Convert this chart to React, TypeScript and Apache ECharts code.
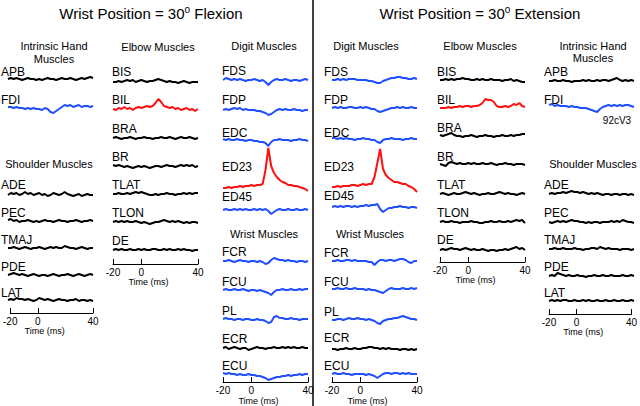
import React, { useEffect, useRef } from 'react';
import * as echarts from 'echarts';

// ---------- data ----------
const TIME = [-20, -18, -16, -14, -12, -10, -8, -6, -4, -2, 0, 2, 4, 6, 8, 10, 12, 14, 16, 18, 20, 22, 24, 26, 28, 30, 32, 34, 36, 38, 40];
const TIME_TICKS = [-20, 0, 40];

const HAND_MUSCLES = ['APB', 'FDI'];
const SHOULDER_MUSCLES = ['ADE', 'PEC', 'TMAJ', 'PDE', 'LAT'];
const ELBOW_MUSCLES = ['BIS', 'BIL', 'BRA', 'BR', 'TLAT', 'TLON', 'DE'];
const DIGIT_MUSCLES = ['FDS', 'FDP', 'EDC', 'ED23', 'ED45'];
const WRIST_MUSCLES = ['FCR', 'FCU', 'PL', 'ECR', 'ECU'];

const TITLES = ['Flexion', 'Extension'];
const MONKEY_ID = '92cV3';

// Flexion
const F_APB = [0, 1, 0, 1, 0, -1, 0, 1, 0, 0, -1, 0, -1, 0, 1, 0, 0, -1, 0, 1, 0, 0, 1, 0, -1, 0, 1, 0, 1, 2, 1];
const F_FDI = [1, 1, 0, 1, 0, 0, -1, 0, -1, 0, -1, -1, -2, 0, -1, -4, -5, -3, -1, 1, 3, 2, 3, 1, 2, 3, 1, 2, 2, 1, 2];
const F_ADE = [0, 2, 1, 2, 0, 1, 3, 1, 2, 0, 1, 2, 0, 1, -1, 0, 2, 1, 0, 1, 3, 1, 0, -1, 0, 1, -1, 0, 1, 0, 0];
const F_PEC = [1, 2, 0, 1, -1, 0, 0, 1, 0, -1, 0, -1, 0, 1, 0, 0, -1, 0, 1, 0, 0, -1, 0, 0, 1, 0, -1, 0, 0, 1, 0];
const F_TMAJ = [0, 0, 1, 0, -1, 0, 1, 0, -1, 0, 0, 1, 0, -1, 0, 1, 0, 1, 0, 0, 2, 1, 0, 0, -1, 0, 1, 0, -1, 0, 0];
const F_PDE = [0, 1, 2, 1, 0, 1, 0, -1, 0, 1, 0, -1, 0, 0, -1, 0, 1, 0, -1, 0, 0, 1, 0, -1, 0, 1, 0, -1, 0, 1, 0];
const F_LAT = [0, 1, 0, 2, 1, 1, 0, 1, 0, -1, 0, 2, 1, 0, 1, 0, -1, 0, 1, 0, 0, -1, 0, 0, 1, -1, 0, 0, -1, 0, -1];

const F_BIS = [0, 0, 1, 0, 1, 2, 1, 2, 0, 1, 2, 1, 0, 1, 1, 2, 3, 2, 1, 0, 1, 0, 0, -1, 0, 1, 0, -1, 0, 0, 0];
const F_BIL = [0, -1, 1, 0, 2, 0, 1, -1, 1, 2, 1, 2, 3, 2, 3, 6, 10, 7, 3, 2, 1, 2, 0, 1, -1, 0, 1, -1, 0, -2, 0];
const F_BRA = [0, 1, 0, -1, 0, 0, 1, 0, -1, 0, 0, 1, 0, 0, -1, 0, 0, 1, 0, 0, 1, 0, -1, 0, 1, 0, 0, 1, 0, -1, 0];
const F_BR = [1, 0, 1, 0, -1, 0, -1, -2, -1, 0, -1, 0, -1, -2, -1, 0, 0, -1, 0, 1, 0, 0, -1, 0, 1, 0, 1, 0, 1, -1, 0];
const F_TLAT = [0, 0, 1, 0, 0, 1, 0, 1, 2, 1, 2, 1, 0, -1, -1, 0, -1, 0, 0, 1, 0, 0, -1, 0, 0, 1, 0, 1, 0, 1, 1];
const F_TLON = [0, 1, 0, 1, 0, 1, 0, 0, 1, 0, -1, 0, -1, -2, -1, 0, 0, 1, 2, 1, 0, 1, 0, 1, 0, -1, 0, -1, 0, 0, -1];
const F_DE = [0, 1, 0, 1, 0, 0, 1, 0, 0, 1, 0, 1, 0, 0, 1, 1, 0, 0, 1, 0, 1, 0, 0, 1, 0, 1, 0, 0, -1, 0, 0];

const F_FDS = [0, 2, 1, 0, 1, 0, 1, 0, -1, 0, 0, 1, 0, -1, 0, -2, -5, -2, 0, 1, 0, 0, 1, 0, -1, 0, 0, -1, 0, 1, 0];
const F_FDP = [0, 1, 0, 1, 2, 1, 2, 0, 1, 0, 0, 0, -1, -1, -2, -3, -5, -4, -2, 0, 1, 0, 1, 0, 0, 1, 0, 0, -1, 0, 0];
const F_EDC = [1, 0, 1, 0, 0, 1, 0, 0, -1, 0, 0, -1, -1, -2, -2, -3, -6, -2, 0, 0, 1, 0, 0, 0, -1, 0, 0, 1, 0, 0, -1];
const F_ED23 = [0, 0, 1, 0, 1, 1, 2, 1, 2, 2, 3, 2, 3, 3, 4, 18, 40, 22, 15, 11, 8, 6, 5, 3, 3, 2, 2, 1, 0, -1, -3];
const F_ED45 = [0, 1, 0, 0, 1, 0, 1, 0, 1, 0, 0, 1, 0, 1, 0, 1, -1, -4, -2, 0, 1, 0, 0, 1, 0, 0, 1, 0, 0, 1, 0];
const F_FCR = [0, 0, 1, 0, -1, 0, 1, 0, 0, -1, 0, 0, -1, 0, -1, -3, -2, 1, 3, 2, 1, 1, 0, 1, 0, 0, -1, 0, 0, -1, 0];
const F_FCU = [0, 1, 0, 0, 1, 0, 0, 1, 0, -1, 0, 0, -1, 0, -1, -2, -3, -5, -2, 0, 0, 1, 0, 0, 1, 0, 0, 1, 0, 1, 1];
const F_PL = [0, 1, 0, 0, -1, 0, 0, -1, 0, 0, -1, -1, 0, -1, -1, -2, -4, -3, 2, 3, 1, 1, 0, 0, 1, 0, 0, -1, 0, 0, 0];
const F_ECR = [0, 1, -1, 0, 1, 0, -1, 0, 0, -2, -1, 0, 1, 0, 0, -1, 0, 0, 1, 0, 0, 1, 0, 1, 0, 1, 0, 0, 1, 0, 0];
const F_ECU = [2, 1, 2, 1, 1, 0, 1, 0, 0, 1, 0, 0, -1, -1, -2, -3, -5, -4, -3, -2, -2, -1, -1, 0, -1, 0, 0, 1, 0, 1, 1];

// Extension
const E_FDS = [0, 0, 1, 0, 1, 0, 1, 1, 1, 0, 0, 0, 0, -1, -1, -2, -3, -3, -1, 0, 1, 2, 2, 3, 3, 2, 2, 1, 1, 2, 1];
const E_FDP = [0, 1, 0, 1, 0, 0, 1, 1, 0, 0, 1, 0, 1, 0, -1, -1, -3, -4, -3, -2, -1, 0, 0, 1, 0, 1, 0, 0, 1, 0, 0];
const E_EDC = [1, 1, 0, 1, 0, 1, 0, 0, -1, 0, 0, 1, 0, 0, -1, -1, -3, -4, -1, 0, 0, 1, 0, 0, 0, -1, 0, 0, 1, 0, 0];
const E_ED23 = [0, 0, 1, 0, 1, 1, 1, 2, 2, 1, 2, 3, 2, 3, 3, 10, 24, 38, 18, 12, 9, 7, 5, 5, 4, 3, 3, 1, 0, -2, -5];
const E_ED45 = [0, 1, 0, 1, 0, 1, 1, 0, 1, 0, 1, 1, 2, 1, 2, 2, 3, -2, -5, -3, -1, -1, 0, 0, 1, 0, 0, -1, 0, 0, -1];
const E_FCR = [0, 0, 1, 0, 0, 1, 1, 0, 1, 0, 0, 0, 0, -1, -1, -4, -1, 1, 1, 0, 1, 1, 0, 1, 2, 2, 1, -1, -2, 0, 0];
const E_FCU = [0, 0, 1, 0, 0, 1, 0, 0, 1, 0, 0, 0, -1, 0, -1, -1, -2, -3, -4, -2, 0, 1, 0, 0, 0, 1, 0, 0, 1, 0, 1];
const E_PL = [0, 0, 1, 1, 0, 1, 2, 1, 1, 2, 1, 1, 0, 1, 0, -1, -3, -4, -1, 0, 1, 1, 2, 2, 3, 4, 3, 2, 1, 1, 0];
const E_ECR = [0, 0, -1, 0, 0, 1, 0, 0, 1, 0, 0, 1, 1, 2, 2, 1, 1, 0, 1, 0, 1, 0, 0, 0, -1, 0, 0, -1, 0, -1, 0];
const E_ECU = [0, 1, 0, 0, 1, 0, 0, -1, 0, 0, 0, 0, -1, 0, -1, -2, -4, -2, 0, 1, 1, 0, 1, 1, 0, 1, 0, 1, 0, 0, 0];

const E_BIS = [0, 0, 1, 0, 1, 0, 1, 1, 2, 1, 1, 0, 0, 1, 0, 1, 0, 0, 1, 0, 0, 0, -1, 0, 0, 1, -1, 0, -1, -2, -2];
const E_BIL = [0, 0, 0, 1, 0, 1, 1, 2, 1, 2, 2, 1, 2, 2, 3, 5, 9, 8, 8, 6, 2, 1, 1, 2, 1, 2, 4, 3, 5, 2, 1];
const E_BRA = [1, 0, 1, 2, 3, 1, 0, 0, -1, 0, 0, 1, 0, -1, 0, 0, 1, 0, 0, -1, 0, 0, 1, 0, 0, 1, 0, 1, 1, 2, 2];
const E_BR = [0, -1, -2, 1, 2, 1, 0, 1, 0, 0, 1, 0, 1, 0, 0, 1, 0, 0, 1, 0, -1, 0, 0, 1, 0, 0, -1, 0, 0, 0, -1];
const E_TLAT = [0, 1, 0, -1, 0, 1, 0, 0, 1, 2, 1, 0, 1, 0, -1, 0, 0, 1, 0, 0, 1, 2, 1, 0, 1, 0, 0, -1, 0, 1, 0];
const E_TLON = [0, 1, 0, 0, 1, 0, 0, -1, 0, 0, 0, 1, 0, 0, -1, -1, 0, 0, 1, 0, 0, 1, 0, 0, 1, 0, 1, 2, 1, 2, -1];
const E_DE = [0, 1, 0, 1, 2, 1, 1, 0, 1, 2, 1, 0, 1, 0, 0, 1, 0, -1, 0, 0, -1, 0, 0, 1, 0, 1, 2, 3, 1, 2, 0];

const E_APB = [0, 0, 1, 0, 0, 1, 0, 0, -1, 0, 0, 0, 1, 0, 1, 0, 0, 1, 0, 1, 1, 0, 1, 2, 3, 1, 0, 1, 0, 1, 0];
const E_FDI = [2, 3, 1, 2, 1, 1, 1, 0, 1, 0, 0, -1, -1, -1, -2, -3, -4, -5, -2, 0, 1, 2, 1, 2, 1, 2, 1, 2, 2, 1, 0];
const E_ADE = [0, 1, 0, 1, 1, 2, 1, 2, 3, 2, 2, 1, 2, 1, 0, 1, 0, 1, 0, -1, 0, 0, -1, 0, 0, -1, 0, 0, -1, 0, -1];
const E_PEC = [0, -1, 0, 1, 0, 1, 0, 1, 2, 1, 1, 0, 0, -1, 0, -1, 0, 0, -1, 0, 0, 0, 1, 0, 1, 0, 2, 1, 0, 0, -1];
const E_TMAJ = [0, 0, 1, 0, 0, 1, 0, 0, 0, 1, 0, 0, -1, 0, 0, 1, 1, 0, 2, 1, 0, 1, 0, 0, 0, -1, 0, 0, 0, -1, 0];
const E_PDE = [0, 1, 0, 3, 2, 1, 0, 1, 0, 0, 1, 0, 0, -1, 0, 0, 1, 0, 0, 1, 0, 0, 1, 0, 0, 0, 1, 0, 0, 1, 0];
const E_LAT = [0, 1, 0, 1, 0, 1, 1, 0, 0, 1, 0, 0, 1, 0, 1, 0, 0, 1, 0, 0, 1, 0, 0, 1, 0, 0, 1, 0, 0, 1, 0];

// ---------- styles & layout ----------
const FONT = '"Liberation Sans", Arial, Helvetica, sans-serif';
const BLACK = '#000000';
const BLUE = '#1f4fff';
const RED = '#ff1010';
const TRACE_W = 85;
const LABEL_SIZE = 12;
const HEADER_SIZE = 11;

type Tr = [string, number[], string, number, number]; // name, values, color, traceY, labelY
type Col = { x: number; lx: number; axisY: number; headers: [string, number, number][]; traces: Tr[] };

const COLS: Col[] = [
  {
    x: 8, lx: 1, axisY: 313,
    headers: [['Intrinsic Hand', 54, 46], ['Muscles', 54, 59], ['Shoulder Muscles', 49, 164]],
    traces: [
      [HAND_MUSCLES[0], F_APB, BLACK, 79, 72],
      [HAND_MUSCLES[1], F_FDI, BLUE, 108, 100],
      [SHOULDER_MUSCLES[0], F_ADE, BLACK, 195, 185],
      [SHOULDER_MUSCLES[1], F_PEC, BLACK, 221, 213],
      [SHOULDER_MUSCLES[2], F_TMAJ, BLACK, 248, 240],
      [SHOULDER_MUSCLES[3], F_PDE, BLACK, 275, 267],
      [SHOULDER_MUSCLES[4], F_LAT, BLACK, 300, 293],
    ],
  },
  {
    x: 113, lx: 112, axisY: 264,
    headers: [['Elbow Muscles', 158, 47]],
    traces: [
      [ELBOW_MUSCLES[0], F_BIS, BLACK, 82, 72],
      [ELBOW_MUSCLES[1], F_BIL, RED, 109, 100],
      [ELBOW_MUSCLES[2], F_BRA, BLACK, 138, 129],
      [ELBOW_MUSCLES[3], F_BR, BLACK, 166, 157],
      [ELBOW_MUSCLES[4], F_TLAT, BLACK, 194, 185],
      [ELBOW_MUSCLES[5], F_TLON, BLACK, 222, 213],
      [ELBOW_MUSCLES[6], F_DE, BLACK, 250, 241],
    ],
  },
  {
    x: 223, lx: 222, axisY: 385,
    headers: [['Digit Muscles', 264, 46], ['Wrist Muscles', 264, 234]],
    traces: [
      [DIGIT_MUSCLES[0], F_FDS, BLUE, 80, 71],
      [DIGIT_MUSCLES[1], F_FDP, BLUE, 110, 100],
      [DIGIT_MUSCLES[2], F_EDC, BLUE, 140, 133],
      [DIGIT_MUSCLES[3], F_ED23, RED, 188, 167],
      [DIGIT_MUSCLES[4], F_ED45, BLUE, 210, 197],
      [WRIST_MUSCLES[0], F_FCR, BLUE, 261, 252],
      [WRIST_MUSCLES[1], F_FCU, BLUE, 290, 282],
      [WRIST_MUSCLES[2], F_PL, BLUE, 319, 311],
      [WRIST_MUSCLES[3], F_ECR, BLACK, 348, 339],
      [WRIST_MUSCLES[4], F_ECU, BLUE, 375, 366],
    ],
  },
  {
    x: 332, lx: 324, axisY: 385,
    headers: [['Digit Muscles', 366, 46], ['Wrist Muscles', 370, 234]],
    traces: [
      [DIGIT_MUSCLES[0], E_FDS, BLUE, 80, 72],
      [DIGIT_MUSCLES[1], E_FDP, BLUE, 108, 100],
      [DIGIT_MUSCLES[2], E_EDC, BLUE, 139, 133],
      [DIGIT_MUSCLES[3], E_ED23, RED, 187, 167],
      [DIGIT_MUSCLES[4], E_ED45, BLUE, 207, 196],
      [WRIST_MUSCLES[0], E_FCR, BLUE, 261, 253],
      [WRIST_MUSCLES[1], E_FCU, BLUE, 289, 282],
      [WRIST_MUSCLES[2], E_PL, BLUE, 320, 312],
      [WRIST_MUSCLES[3], E_ECR, BLACK, 349, 338],
      [WRIST_MUSCLES[4], E_ECU, BLUE, 374, 366],
    ],
  },
  {
    x: 440, lx: 437, axisY: 262,
    headers: [['Elbow Muscles', 480, 46]],
    traces: [
      [ELBOW_MUSCLES[0], E_BIS, BLACK, 80, 72],
      [ELBOW_MUSCLES[1], E_BIL, RED, 108, 100],
      [ELBOW_MUSCLES[2], E_BRA, BLACK, 136, 128],
      [ELBOW_MUSCLES[3], E_BR, BLACK, 164, 157],
      [ELBOW_MUSCLES[4], E_TLAT, BLACK, 194, 185],
      [ELBOW_MUSCLES[5], E_TLON, BLACK, 222, 213],
      [ELBOW_MUSCLES[6], E_DE, BLACK, 250, 240],
    ],
  },
  {
    x: 549, lx: 544, axisY: 314,
    headers: [['Intrinsic Hand', 593, 46], ['Muscles', 593, 58], ['Shoulder Muscles', 593, 164]],
    traces: [
      [HAND_MUSCLES[0], E_APB, BLACK, 81, 72],
      [HAND_MUSCLES[1], E_FDI, BLUE, 107, 100],
      [SHOULDER_MUSCLES[0], E_ADE, BLACK, 194, 185],
      [SHOULDER_MUSCLES[1], E_PEC, BLACK, 222, 213],
      [SHOULDER_MUSCLES[2], E_TMAJ, BLACK, 249, 240],
      [SHOULDER_MUSCLES[3], E_PDE, BLACK, 276, 267],
      [SHOULDER_MUSCLES[4], E_LAT, BLACK, 301, 293],
    ],
  },
];

function textEl(text: string, x: number, y: number, size: number, align: string) {
  return {
    type: 'text',
    x, y,
    silent: true,
    style: {
      text,
      fill: '#000',
      fontSize: size,
      fontFamily: FONT,
      align, textAlign: align,
      verticalAlign: 'middle', textVerticalAlign: 'middle',
    },
  };
}

function titleEl(word: string, cx: number) {
  return {
    type: 'text',
    x: cx, y: 13,
    silent: true,
    style: {
      text: `{a|Wrist Position = 30}{b|o}{a| ${word}}`,
      fill: '#000',
      align: 'center', textAlign: 'center',
      verticalAlign: 'middle', textVerticalAlign: 'middle',
      rich: {
        a: { fontSize: 15, fontFamily: FONT, fill: '#000', lineHeight: 18 },
        b: { fontSize: 10, fontFamily: FONT, fill: '#000', lineHeight: 11, verticalAlign: 'top' },
      },
    },
  };
}

function buildOption() {
  const grid: any[] = [];
  const xAxis: any[] = [];
  const yAxis: any[] = [];
  const series: any[] = [];
  const graphic: any[] = [];

  COLS.forEach((col) => {
    col.headers.forEach(([t, cx, y]) => graphic.push(textEl(t, cx, y, HEADER_SIZE, 'center')));
    col.traces.forEach(([name, values, color, ty, ly]) => {
      const gi = grid.length;
      grid.push({ left: col.x, width: TRACE_W, top: ty - 50, height: 60 });
      xAxis.push({ type: 'value', gridIndex: gi, min: -20, max: 40, show: false });
      yAxis.push({ type: 'value', gridIndex: gi, min: -10, max: 50, show: false });
      series.push({
        type: 'line',
        name,
        xAxisIndex: gi,
        yAxisIndex: gi,
        data: values.map((v, i) => [TIME[i], v]),
        showSymbol: false,
        symbol: 'none',
        silent: true,
        clip: false,
        lineStyle: { color, width: 2 },
      });
      graphic.push(textEl(name, col.lx, ly, LABEL_SIZE, 'left'));
    });
    // time axis
    const gi = grid.length;
    grid.push({ left: col.x, width: TRACE_W, top: col.axisY - 10, height: 10 });
    xAxis.push({
      type: 'value', gridIndex: gi, min: -20, max: 40, position: 'bottom',
      axisLine: { show: true, onZero: false, lineStyle: { color: '#000', width: 1 } },
      axisTick: { show: true, inside: true, length: 5, customValues: TIME_TICKS, lineStyle: { color: '#000', width: 1 } },
      axisLabel: { show: true, customValues: TIME_TICKS, fontSize: 10, color: '#000', fontFamily: FONT, margin: 3 },
      splitLine: { show: false },
      name: 'Time (ms)',
      nameLocation: 'middle',
      nameGap: 13,
      nameTextStyle: { fontSize: 9, color: '#000', fontFamily: FONT, padding: [0, 14, 0, 0] },
    });
    yAxis.push({ type: 'value', gridIndex: gi, show: false, min: 0, max: 1 });
  });

  graphic.push(titleEl(TITLES[0], 151));
  graphic.push(titleEl(TITLES[1], 480));
  graphic.push(textEl(MONKEY_ID, 617, 120, 10, 'center'));
  graphic.push({
    type: 'line',
    silent: true,
    shape: { x1: 313, y1: 0, x2: 313, y2: 406 },
    style: { stroke: '#000', lineWidth: 1.5 },
  });

  return {
    animation: false,
    backgroundColor: '#ffffff',
    grid,
    xAxis,
    yAxis,
    series,
    graphic,
  };
}

export default function App() {
  const ref = useRef<HTMLDivElement>(null);
  useEffect(() => {
    if (!ref.current) return;
    const chart = echarts.init(ref.current, null, { renderer: 'svg', width: 640, height: 406 });
    chart.setOption(buildOption() as any);
    return () => chart.dispose();
  }, []);
  return (
    <div
      ref={ref}
      style={{ position: 'absolute', left: 0, top: 0, width: 640, height: 406, background: '#fff' }}
    />
  );
}
